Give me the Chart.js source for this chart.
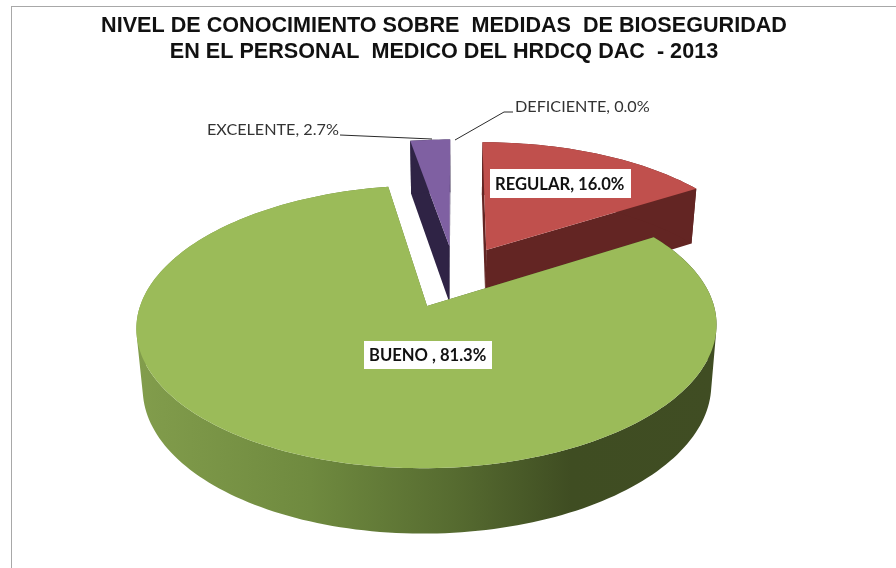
<!DOCTYPE html>
<html lang="es">
<head>
<meta charset="UTF-8">
<title>Nivel de conocimiento</title>
<script src="https://cdn.jsdelivr.net/npm/chart.js"></script>
<style>
    body { margin: 0; background: #fff; overflow: hidden; }
    #frame { position: absolute; left: 11px; top: 6px; width: 900px; height: 600px;
             border-left: 1.5px solid #a8a8a8; border-top: 1.5px solid #a8a8a8; }
    #myChart { position: absolute; left: 0; top: 0; }
</style>
</head>
<body>
<div id="frame"></div>
<canvas id="myChart" width="896" height="568"></canvas>
<script>
const categories = ["REGULAR", "BUENO ", "EXCELENTE", "DEFICIENTE"];
const values = [16.0, 81.3, 2.7, 0.0];
const topColors = ["#C0504D", "#9BBB59", "#7F60A2", "#4BACC6"];
const sideColors = ["#632523", "#4F6228", "#2F2345", "#205867"];
const titleLines = [
    "NIVEL DE CONOCIMIENTO SOBRE  MEDIDAS  DE BIOSEGURIDAD",
    "EN EL PERSONAL  MEDICO DEL HRDCQ DAC  - 2013"
];

// tilted camera: unit pie plane -> screen
const view = { x0: 455, y0: 276.5, a: 278, b: 130, k: 0.142, explode: 0.24,
               depth: 58, shrink: 0.98, stretch: 5 };

function project(u, v, lower) {
    const w = 1 - view.k * v;
    if (lower) {
        return [view.x0 + view.a * view.shrink * u / w,
                view.y0 + view.depth + (view.b + view.stretch) * v / w];
    }
    return [view.x0 + view.a * u / w, view.y0 + view.b * v / w];
}

function arcPoints(arc, lower) {
    const mid = (arc.startAngle + arc.endAngle) / 2;
    const cu = view.explode * Math.cos(mid), cv = view.explode * Math.sin(mid);
    const steps = Math.max(2, Math.ceil((arc.endAngle - arc.startAngle) * 40));
    const rim = [];
    for (let i = 0; i <= steps; i++) {
        const t = arc.startAngle + (arc.endAngle - arc.startAngle) * i / steps;
        rim.push(project(cu + Math.cos(t), cv + Math.sin(t), lower));
    }
    return { apex: project(cu, cv, lower), rim };
}

function tracePoly(ctx, pts) {
    pts.forEach((p, i) => i ? ctx.lineTo(p[0], p[1]) : ctx.moveTo(p[0], p[1]));
    ctx.closePath();
}

function fillPoly(ctx, pts, color) {
    ctx.beginPath();
    tracePoly(ctx, pts);
    ctx.fillStyle = color;
    ctx.fill();
}

function signedArea(pts) {
    let sum = 0;
    pts.forEach((p, i) => {
        const q = pts[(i + 1) % pts.length];
        sum += p[0] * q[1] - q[0] * p[1];
    });
    return sum;
}

// outer wall as quads in one path, all wound the same way so the fold at the sides stays filled
function fillWall(ctx, top, low, color) {
    ctx.beginPath();
    for (let s = 0; s < top.rim.length - 1; s++) {
        const quad = [top.rim[s], top.rim[s + 1], low.rim[s + 1], low.rim[s]];
        tracePoly(ctx, signedArea(quad) < 0 ? quad.reverse() : quad);
    }
    ctx.fillStyle = color;
    ctx.fill();
}

function sideFill(ctx, i) {
    if (i !== 1) return sideColors[i];
    // green wall gets darker to the right
    const g = ctx.createLinearGradient(136, 0, 716, 0);
    g.addColorStop(0, "#829D4C");
    g.addColorStop(0.3, "#6F8A3F");
    g.addColorStop(0.55, "#566B30");
    g.addColorStop(0.75, "#3F4D22");
    g.addColorStop(1, "#404D23");
    return g;
}

const pie3d = {
    id: "pie3d",
    beforeDatasetDraw(chart) {
        const ctx = chart.ctx;
        const arcs = chart.getDatasetMeta(0).data;
        // back slices first, the big green one last
        [3, 2, 0, 1].forEach(i => {
            if (values[i] === 0) return;
            const top = arcPoints(arcs[i], false);
            const low = arcPoints(arcs[i], true);
            const fill = sideFill(ctx, i);
            const last = top.rim.length - 1;
            fillPoly(ctx, [top.apex, top.rim[0], low.rim[0], low.apex], fill);
            fillPoly(ctx, [top.apex, top.rim[last], low.rim[last], low.apex], fill);
            fillWall(ctx, top, low, fill);
            fillPoly(ctx, [top.apex].concat(top.rim), topColors[i]);
        });
        return false;
    },
    afterDatasetsDraw(chart) {
        const ctx = chart.ctx;
        ctx.save();
        // leader lines for the two small slices
        ctx.strokeStyle = "#2a2a2a";
        ctx.lineWidth = 1;
        ctx.beginPath();
        ctx.moveTo(340, 135); ctx.lineTo(432, 139);
        ctx.moveTo(513, 112); ctx.lineTo(504, 112); ctx.lineTo(455, 140);
        ctx.stroke();

        ctx.textBaseline = "middle";
        ctx.textAlign = "left";
        const text = i => categories[i] + ", " + values[i].toFixed(1) + "%";

        ctx.font = "bold 16.6px Lato";
        [[0, 490, 169, 141, 29, 495], [1, 364, 341, 128, 28, 369]].forEach(([i, x, y, w, h, tx]) => {
            ctx.fillStyle = "#fff";
            ctx.fillRect(x, y, w, h);
            ctx.fillStyle = "#111";
            ctx.fillText(text(i), tx, y + h / 2 + 1);
        });

        ctx.font = "16.2px Lato";
        ctx.fillStyle = "#333";
        ctx.fillText(text(2), 207, 130);
        ctx.fillText(text(3), 515, 107);
        ctx.restore();
    }
};

new Chart(document.getElementById("myChart"), {
    type: "pie",
    data: {
        labels: categories,
        datasets: [{ data: values, backgroundColor: topColors, borderWidth: 0 }]
    },
    options: {
        responsive: false,
        animation: false,
        layout: { padding: { top: 6, right: 8 } },
        plugins: {
            legend: { display: false },
            tooltip: { enabled: false },
            title: {
                display: true,
                text: titleLines,
                color: "#111",
                font: { family: "Liberation Sans", size: 21.6, weight: "bold", lineHeight: 1.16 },
                padding: { top: 8, bottom: 0 }
            }
        }
    },
    plugins: [pie3d]
});
</script>
</body>
</html>
